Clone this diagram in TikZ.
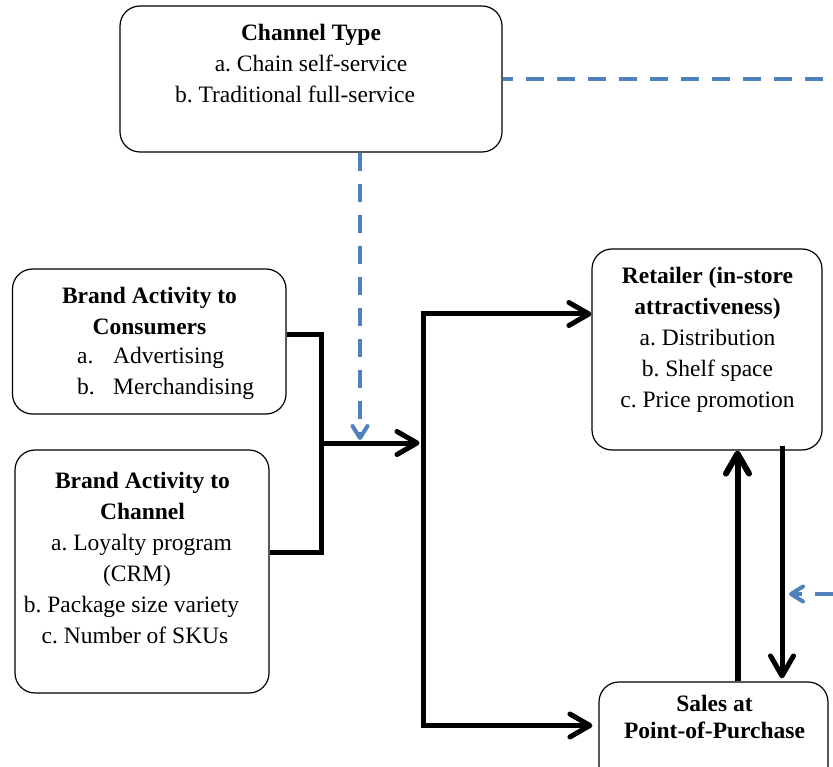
\documentclass[tikz,border=0pt]{standalone}
\usepackage{fontspec}
\setmainfont{Liberation Serif}
\usetikzlibrary{arrows.meta}
\definecolor{cueblue}{RGB}{79,129,189}
\newcommand{\trail}[1]{\hspace*{#1}\mbox{}}
\frenchspacing
\begin{document}
\begin{tikzpicture}[x=1pt,y=-1pt,
	box/.style={draw=black,line width=1.2pt,fill=white,rounded corners=20pt,inner sep=0pt},
	txt/.style={inner sep=0pt,align=center,font=\fontsize{23.5}{31}\selectfont},
	link/.style={draw=black,line width=5pt},
	flow/.style={link,-{Straight Barb[round,length=20pt,width=23pt]}},
	cue/.style={draw=cueblue,line width=4pt,dash pattern=on 18pt off 13pt,-{Straight Barb[round,length=12pt,width=15pt]}}]
	\useasboundingbox (0,0) rectangle (833,767);
	\clip (0,0) rectangle (833,767);
	% boxes
	\node[box,minimum width=382pt,minimum height=146pt] (chtype) at (311,79) {};
	\node[txt] (chtypetxt) at (311,64) {\textbf{Channel Type}\\a. Chain self-service\\b. Traditional full-service\trail{32pt}};
	\node[box,minimum width=273.5pt,minimum height=145pt] (bacons) at (149.25,341.5) {};
	\node[txt] (baconstitle) at (149.5,311) {\textbf{Brand Activity to}\\\textbf{Consumers}};
	\node[txt,align=left,anchor=west] (baconsitems) at (77,373) {\makebox[36pt][l]{a.}Advertising\\\makebox[36pt][l]{b.}Merchandising};
	\node[box,minimum width=254pt,minimum height=243pt] (bachan) at (142,571.5) {};
	\node[txt] (bachantxt) at (142.5,558) {\textbf{Brand Activity to}\\\textbf{Channel}\\a. Loyalty program\trail{2pt}\\(CRM)\trail{11pt}\\b. Package size variety\trail{22pt}\\c. Number of SKUs\trail{15pt}};
	\node[box,minimum width=230pt,minimum height=201pt] (retail) at (707,349.5) {};
	\node[txt] (retailtxt) at (707.5,340) {\textbf{Retailer (in-store}\\\textbf{attractiveness)}\\a. Distribution\\b. Shelf space\\c. Price promotion};
	\node[box,minimum width=229pt,minimum height=108pt] (sales) at (713.5,736) {};
	\node[txt,font=\fontsize{23.5}{27}\selectfont] (salestxt) at (714.5,716.5) {\textbf{Sales at}\\\textbf{Point-of-Purchase}};
	% junctions and free ends
	\coordinate (merge) at (321,443);
	\coordinate (split) at (423.5,443);
	\coordinate (rimtop) at (845,79);
	\coordinate (rimside) at (845,594);
	\coordinate (feedback) at (789,594);
	% solid links
	\draw[link] ([yshift=6.5pt]bacons.east) -| (merge) |- ([yshift=19pt]bachan.east);
	\draw[flow] (merge) -- ([xshift=-4pt]split);
	\draw[flow] (split) |- ([yshift=35.5pt]retail.west);
	\draw[flow] (split) |- ([xshift=-6pt,yshift=10.5pt]sales.west);
	\draw[flow,line width=6pt] ([xshift=24pt]sales.north) -- ([xshift=24pt]sales.north |- retail.south);
	\draw[flow] ([xshift=75pt,yshift=5pt]retail.south) -- ([xshift=75pt,yshift=3pt]retail.south |- sales.north);
	% dashed cues
	\draw[cue] ([xshift=49pt]chtype.south) -- ([xshift=49pt,yshift=3pt]chtype.south |- merge);
	\draw[cue,-,dash phase=8pt] (chtype.east) -- (rimtop);
	\draw[cue,dash phase=19pt] (rimside) -- (feedback);
\end{tikzpicture}
\end{document}
